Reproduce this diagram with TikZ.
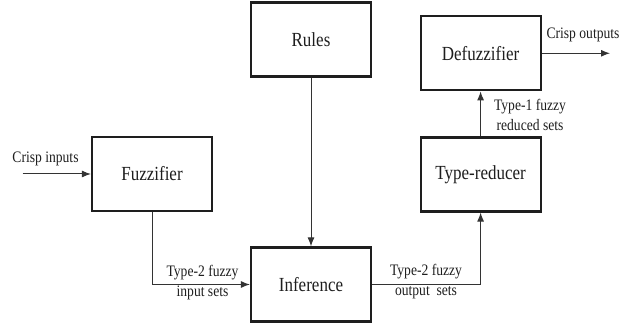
\documentclass[tikz,border=0pt]{standalone}
\usepackage{fontspec}
\setmainfont[FakeStretch=0.85]{Liberation Serif}
\usetikzlibrary{arrows.meta}
\definecolor{ink}{HTML}{1E1E1E}
\definecolor{wire}{HTML}{333333}
\tikzset{
  x=1pt, y=1pt,
  block/.style={draw=ink, line width=2.2pt, minimum width=120pt, minimum height=74pt,
    inner sep=0pt, text=ink, font=\fontsize{20}{22}\selectfont},
  conn/.style={draw=wire, line width=1pt, -{Latex[length=9pt,width=7pt]}},
  lbl/.style={text=ink, inner sep=0pt, align=center, font=\fontsize{16}{20}\selectfont},
}
\begin{document}
\begin{tikzpicture}
\useasboundingbox (0,0) rectangle (621,328);
% processing blocks
\node[block] (rules)  at (311,288.5) {Rules};
\node[block] (defuzz) at (480.6,274.7) {Defuzzifier};
\node[block] (fuzz)   at (152,154) {Fuzzifier};
\node[block] (tred)   at (480.6,153.5) {Type-reducer};
\node[block] (infer)  at (311,43.5) {Inference};
% free ends of the input and output arrows
\coordinate (in)  at (22.6,154);
\coordinate (out) at (610,274.7);
% connectors
\draw[conn] (in) -- (fuzz.west);
\draw[conn] (fuzz.south) |- (infer.west);
\draw[conn] (rules.south) -- (infer.north);
\draw[conn] (infer.east) -| (tred.south);
\draw[conn] (tred.north) -- (defuzz.south);
\draw[conn] (defuzz.east) -- (out);
% labels
\node[lbl] (lin)  at (45.5,169) {Crisp inputs};
\node[lbl] (lout) at (583,293) {Crisp outputs};
\node[lbl] (l2in) at (202.5,45) {Type-2 fuzzy\\input sets};
\node[lbl] (l2out) at (426,46.5) {Type-2 fuzzy\\output\ \ sets};
\node[lbl] (l1) at (530,213) {Type-1 fuzzy\\reduced sets};
\end{tikzpicture}
\end{document}
